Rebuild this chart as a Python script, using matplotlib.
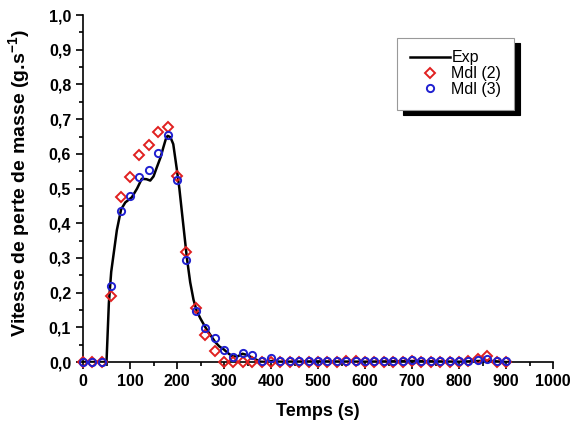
import numpy as np
import matplotlib.pyplot as plt
from matplotlib.ticker import MultipleLocator, FuncFormatter

plt.rcParams['font.family'] = ['Liberation Sans', 'DejaVu Sans']
plt.rcParams['mathtext.fontset'] = 'custom'
plt.rcParams['mathtext.rm'] = 'Liberation Sans'
plt.rcParams['mathtext.bf'] = 'Liberation Sans:bold'

# experimental curve
t_exp = [0, 48, 50, 55, 60, 65, 72, 81, 90, 104, 115, 125, 135, 143, 150, 157, 165, 171, 176, 180,
         186, 192, 199, 205, 210, 221, 228, 235, 242, 250, 260, 270, 281, 290, 299, 310, 319, 330,
         339, 350, 362, 370, 377, 390, 400, 420, 500, 600, 700, 800, 860, 900, 910]
v_exp = [0, 0, 0.0, 0.17, 0.26, 0.31, 0.38, 0.44, 0.46, 0.475, 0.50, 0.528, 0.527, 0.523, 0.535,
         0.561, 0.59, 0.619, 0.642, 0.652, 0.648, 0.628, 0.561, 0.50, 0.437, 0.300, 0.23, 0.18,
         0.147, 0.125, 0.101, 0.08, 0.058, 0.045, 0.037, 0.024, 0.016, 0.017, 0.024, 0.020,
         0.011, 0.006, 0.001, 0.0, 0.003, 0.001, 0.002, 0.001, 0.003, 0.001, 0.004, 0.0, 0.0]

# model points (every 20 s)
t_mdl = np.arange(0, 901, 20)
v_mdl2 = [0, 0, 0, 0.19, 0.477, 0.534, 0.598, 0.626, 0.664, 0.678, 0.537, 0.317, 0.157, 0.078,
          0.033, 0.0, 0.0, 0.0, 0.0, 0.0, 0.0, 0.0, 0.0, 0.0, 0.0, 0.0, 0.0, 0.0, 0.002, 0.003,
          0.0, 0.0, 0.0, 0.0, 0.0, 0.004, 0.0, 0.0, 0.0, 0.0, 0.0, 0.003, 0.01, 0.018, 0.0, 0.0]
v_mdl3 = [0, 0, 0, 0.22, 0.435, 0.478, 0.534, 0.553, 0.603, 0.653, 0.525, 0.293, 0.147, 0.099,
          0.068, 0.034, 0.015, 0.025, 0.02, 0.003, 0.012, 0.003, 0.002, 0.002, 0.002, 0.004,
          0.002, 0.002, 0.003, 0.002, 0.002, 0.002, 0.003, 0.002, 0.004, 0.006, 0.004, 0.003,
          0.003, 0.003, 0.002, 0.003, 0.006, 0.008, 0.002, 0.002]

fig = plt.figure(figsize=(5.74, 4.30), dpi=100)
ax = fig.add_axes([0.1446, 0.158, 0.819, 0.807])

ax.plot(t_exp, v_exp, color='black', lw=1.8, label='Exp', zorder=2)
ax.plot(t_mdl, v_mdl2, ls='none', marker='D', ms=4.8, mfc='none', mec='#e02020', mew=1.4,
        label='Mdl (2)', clip_on=False, zorder=3)
ax.plot(t_mdl, v_mdl3, ls='none', marker='o', ms=5.2, mfc='none', mec='#2020d0', mew=1.4,
        label='Mdl (3)', clip_on=False, zorder=4)

ax.set_xlim(0, 1000)
ax.set_ylim(0, 1.0)
ax.xaxis.set_major_locator(MultipleLocator(100))
ax.xaxis.set_minor_locator(MultipleLocator(50))
ax.yaxis.set_major_locator(MultipleLocator(0.1))
ax.yaxis.set_minor_locator(MultipleLocator(0.05))
ax.yaxis.set_major_formatter(FuncFormatter(lambda v, p: ('%.1f' % v).replace('.', ',')))
ax.tick_params(which='major', direction='out', length=5, width=1.2, labelsize=11.5)
ax.tick_params(which='minor', direction='out', length=3, width=1.2)
for lab in ax.get_xticklabels() + ax.get_yticklabels():
    lab.set_fontweight('bold')
ax.spines['top'].set_visible(False)
ax.spines['right'].set_visible(False)
ax.spines['left'].set_linewidth(1.2)
ax.spines['bottom'].set_linewidth(1.2)

ax.set_xlabel('Temps (s)', fontsize=13, fontweight='bold', labelpad=10)
ax.set_ylabel('Vitesse de perte de masse (g.s$^{\\mathbf{-1}}$)', fontsize=14, fontweight='bold')
ax.yaxis.set_label_coords(-0.107, 0.515)

leg = ax.legend(loc='upper left', bbox_to_anchor=(0.668, 0.935), fontsize=11.5, frameon=True,
                fancybox=False, shadow={'color': 'black', 'alpha': 1, 'ox': 4, 'oy': -4},
                edgecolor='#999999', handlelength=2.5, handletextpad=0.1, borderpad=0.8,
                labelspacing=0.05, borderaxespad=0)
leg.get_frame().set_linewidth(0.8)

fig.savefig('out.png', dpi=100)
